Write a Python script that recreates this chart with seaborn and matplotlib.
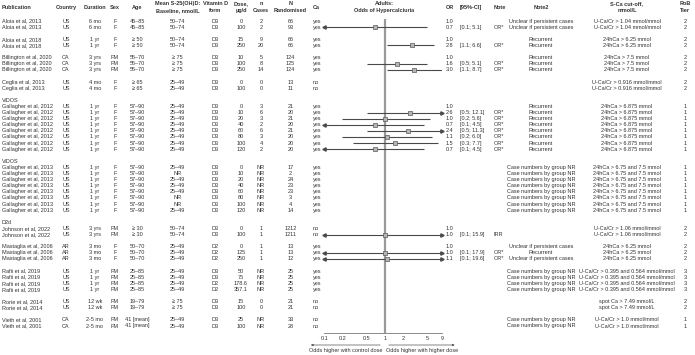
import numpy as np
import pandas as pd
import seaborn as sns
from matplotlib import pyplot as plt

# study level data
studies = ['Aloia et al, 2013', 'Aloia et al, 2018', 'Billington et al, 2020', 'Ceglia et al, 2013',
           'Gallagher et al, 2012', 'Gallagher et al, 2013', 'Johnson et al, 2022', 'Mastaglia et al, 2006',
           'Rafii et al, 2019', 'Rorie et al, 2014', 'Vieth et al, 2001']
groups = ['', '', '', '', 'ViDOS', 'ViDOS', 'D2d', '', '', '', '']
country = ['US', 'US', 'CA', 'US', 'US', 'US', 'US', 'AR', 'US', 'US', 'CA']
duration = ['6 mo', '1 yr', '3 yrs', '4 mo', '1 yr', '1 yr', '3 yrs', '3 mo', '1 yr', '12 wk', '2-5 mo']
sex = ['F', 'F', 'FM', 'F', 'F', 'F', 'FM', 'F', 'FM', 'FM', 'FM']
age = ['45–85', '≥ 50', '55–70', '≥ 65', '57–90', '57–90', '≥ 30', '50–70', '25–85', '19–79', '41 [mean]']
ca = ['yes', 'yes', 'yes', 'no', 'yes', 'yes', 'no', 'yes', 'yes', 'no', 'no']
cutoff = ['U-Ca/Cr > 1.04 mmol/mmol', '24hCa > 6.25 mmol', '24hCa > 7.5 mmol', 'U-Ca/Cr > 0.916 mmol/mmol',
          '24hCa > 6.875 mmol', '24hCa > 6.75 and 7.5 mmol', 'U-Ca/Cr > 1.06 mmol/mmol', '24hCa > 6.25 mmol',
          'U-Ca/Cr > 0.395 and 0.564 mmol/mmol', 'spot Ca > 7.49 mmol/L', 'U-Ca/Cr > 1.0 mmol/mmol']
rob = ['2', '2', '2', '2', '1', '1', '2', '2', '3', '2', '1']

# arm level data
doses = [['0', '100'], ['15', '250'], ['10', '100', '250'], ['0', '100'],
         ['0', '10', '20', '40', '60', '80', '100', '120'],
         ['0', '10', '20', '40', '60', '80', '100', '120'],
         ['0', '100'], ['0', '125', '250'], ['50', '75', '178.6', '357.1'], ['15', '100'], ['25', '100']]
cases = [['2', '2'], ['9', '20'], ['5', '8', '14'], ['0', '0'],
         ['3', '6', '3', '2', '6', '3', '4', '2'],
         ['NR'] * 8,
         ['1', '1'], ['1', '1', '1'], ['NR'] * 4, ['0', '0'], ['NR', 'NR']]
randomised = [['66', '93'], ['66', '66'], ['124', '125', '124'], ['13', '11'],
              ['21', '20', '21', '20', '21', '20', '20', '20'],
              ['17', '2', '24', '23', '23', '3', '4', '14'],
              ['1212', '1211'], ['13', '13', '12'], ['25'] * 4, ['21', '21'], ['33', '28']]
baseline = [['50–74'] * 2, ['50–74'] * 2, ['≥ 75'] * 3, ['25–49'] * 2, ['25–49'] * 8,
            ['25–49', 'NR', '25–49', '25–49', '25–49', 'NR', 'NR', '25–49'],
            ['50–74'] * 2, ['25–49'] * 3, ['25–49'] * 4, ['≥ 75'] * 2, ['25–49'] * 2]
vit_form = [['D3'] * 2, ['D3'] * 2, ['D3'] * 3, ['D3'] * 2, ['D3'] * 8, ['D3'] * 8,
            ['D3'] * 2, ['D2'] * 3, ['D3', 'D3', 'D2', 'D2'], ['D3'] * 2, ['D3'] * 2]
odds = [[1.0, 0.7], [1.0, 2.8], [1.0, 1.6, 3.0], [None, None],
        [1.0, 2.6, 1.0, 0.7, 2.4, 1.1, 1.5, 0.7], [None] * 8,
        [1.0, 1.0], [1.0, 1.0, 1.1], [None] * 4, [None] * 2, [None] * 2]
ci_low = [[None, 0.1], [None, 1.1], [None, 0.5, 1.1], [None, None],
          [None, 0.5, 0.2, 0.1, 0.5, 0.2, 0.3, 0.1], [None] * 8,
          [None, 0.1], [None, 0.1, 0.1], [None] * 4, [None] * 2, [None] * 2]
ci_high = [[None, 5.1], [None, 6.6], [None, 5.1, 8.7], [None, None],
           [None, 12.1, 5.6, 4.5, 11.3, 6.0, 7.7, 4.5], [None] * 8,
           [None, 15.9], [None, 17.9, 19.6], [None] * 4, [None] * 2, [None] * 2]
note = [['', 'OR*'], ['', 'OR*'], ['', 'OR*', 'OR*'], ['', ''],
        [''] + ['OR*'] * 7, [''] * 8, ['', 'IRR'], ['', 'OR*', 'OR*'], [''] * 4, [''] * 2, [''] * 2]
note2 = [['Unclear if persistent cases'] * 2, ['Recurrent'] * 2, ['Recurrent'] * 3, ['', ''],
         ['Recurrent'] * 8, ['Case numbers by group NR'] * 8, ['', ''],
         ['Unclear if persistent cases', 'Recurrent', 'Unclear if persistent cases'],
         ['Case numbers by group NR'] * 4, ['', ''], ['Case numbers by group NR'] * 2]

tick_vals = [0.1, 0.2, 0.5, 1, 2, 5, 9]
tick_labels = ['0.1', '0.2', '0.5', '1', '2', '5', '9']

# build the table, one line per arm, with spacer / group lines
records = []
labels = []
r = 0
for k, name in enumerate(studies):
    if k > 0:
        r += 1
    if groups[k]:
        labels.append((r, groups[k]))
        r += 1
    for j, d in enumerate(doses[k]):
        o = odds[k][j]
        lo, hi = ci_low[k][j], ci_high[k][j]
        records.append(dict(row=r, pub=name, country=country[k], duration=duration[k], sex=sex[k],
                            age=age[k], baseline=baseline[k][j], form=vit_form[k][j], dose=d,
                            cases=cases[k][j], rand=randomised[k][j], ca=ca[k],
                            orv=o, lo=lo, hi=hi,
                            ortxt='' if o is None else f'{o:.1f}',
                            citxt='' if lo is None else f'[{lo:.1f}; {hi:.1f}]',
                            note=note[k][j], note2=note2[k][j], cutoff=cutoff[k], rob=rob[k]))
        r += 1
df = pd.DataFrame(records)

W, H = 695, 355
TOP, PITCH = 21, 6.1
AX_BOTTOM = 332.7
X_LO, X_HI = 324.3, 442.4
XMIN, XMAX = 0.1, 9


def px2row(p):
    return (p - TOP) / PITCH


sns.set_style('white')
plt.rcParams['font.family'] = ['Liberation Sans', 'DejaVu Sans']
TXT = '#333333'
FS = 4.0

fig = plt.figure(figsize=(W / 100, H / 100), dpi=100)
ax = fig.add_axes([0, 0, 1, 1])
ax.set_xlim(0, W)
ax.set_ylim(px2row(H), px2row(0))
ax.axis('off')

columns = [
    (['Publication'], 2, 'left', 'pub'),
    (['Country'], 66, 'center', 'country'),
    (['Duration'], 95, 'center', 'duration'),
    (['Sex'], 115, 'center', 'sex'),
    (['Age'], 137, 'center', 'age'),
    (['Mean S-25(OH)D:', 'Baseline, nmol/L'], 177.5, 'center', 'baseline'),
    (['Vitamin D', 'form'], 215.5, 'center', 'form'),
    (['Dose,', 'µg/d'], 241, 'center', 'dose'),
    (['n', 'Cases'], 261, 'center', 'cases'),
    (['N', 'Randomised'], 290.5, 'center', 'rand'),
    (['Ca'], 313, 'left', 'ca'),
    (['Adults:', 'Odds of Hypercalciuria'], 384, 'center', None),
    (['OR'], 445.5, 'left', 'ortxt'),
    (['[95%-CI]'], 459.5, 'left', 'citxt'),
    (['Note'], 493.5, 'left', 'note'),
    (['Note2'], 541, 'center', 'note2'),
    (['S-Ca cut-off,', 'mmol/L'], 627, 'center', 'cutoff'),
    (['RoB', 'Tier'], 685, 'center', 'rob'),
]

for head, x, ha, key in columns:
    if len(head) == 1:
        ax.text(x, px2row(7.5), head[0], ha=ha, va='center', fontsize=FS, fontweight='bold', color=TXT)
    else:
        ax.text(x, px2row(3.6), head[0], ha=ha, va='center', fontsize=FS, fontweight='bold', color=TXT)
        ax.text(x, px2row(10.3), head[1], ha=ha, va='center', fontsize=FS, fontweight='bold', color=TXT)
    if key is None:
        continue
    for _, rec in df.iterrows():
        if rec[key]:
            ax.text(x, rec['row'], rec[key], ha=ha, va='center', fontsize=FS, color=TXT)

for row, lab in labels:
    ax.text(2, row, lab, ha='left', va='center', fontsize=FS, color=TXT)

# forest plot
axf = fig.add_axes([X_LO / W, (H - AX_BOTTOM) / H, (X_HI - X_LO) / W, AX_BOTTOM / H])
axf.patch.set_alpha(0)
axf.set_xscale('log')
axf.vlines(1, px2row(19), px2row(AX_BOTTOM), color='#9a9a9a', lw=1.6, zorder=1)

ci = df.dropna(subset=['lo']).copy()
ci_rows = ci['row'].to_numpy(dtype=float)
ci_a = np.maximum(ci['lo'].to_numpy(dtype=float), XMIN)
ci_b = np.minimum(ci['hi'].to_numpy(dtype=float), XMAX)
axf.hlines(ci_rows, ci_a, ci_b, colors='#4a4a4a', linewidths=0.8, zorder=2)
left = ci[ci['lo'] <= XMIN]
right = ci[ci['hi'] > XMAX]
axf.plot(np.full(len(left), XMIN), left['row'].to_numpy(dtype=float), ls='none', marker='<',
         ms=2.4, color='#4a4a4a', clip_on=False)
axf.plot(np.full(len(right), XMAX), right['row'].to_numpy(dtype=float), ls='none', marker='>',
         ms=2.4, color='#4a4a4a', clip_on=False)
sns.scatterplot(data=ci, x='orv', y='row', marker='s', s=9, color='#b5b5b5', edgecolor='#5a5a5a',
                linewidth=0.5, ax=axf, zorder=3, legend=False, clip_on=False)

axf.set_xlim(XMIN, XMAX)
axf.set_ylim(px2row(AX_BOTTOM), px2row(0))
axf.set_xticks(tick_vals)
axf.set_xticklabels(tick_labels)
axf.minorticks_off()
axf.set_yticks([])
axf.set_xlabel('')
axf.set_ylabel('')
for s in ['top', 'left', 'right']:
    axf.spines[s].set_visible(False)
axf.spines['bottom'].set_color('#777777')
axf.spines['bottom'].set_linewidth(0.6)
axf.tick_params(axis='x', direction='in', length=2.5, width=0.6, color='#777777',
                labelsize=FS, labelcolor=TXT, pad=2.6)

# direction arrows
ya = px2row(345)
ax.annotate('', xy=(308, ya), xytext=(383, ya),
            arrowprops=dict(arrowstyle='-|>', lw=0.5, color='#555555', mutation_scale=3))
ax.annotate('', xy=(457.5, ya), xytext=(386, ya),
            arrowprops=dict(arrowstyle='-|>', lw=0.5, color='#555555', mutation_scale=3))
ax.text(345.5, px2row(350.5), 'Odds higher with control dose', ha='center', va='center', fontsize=FS, color=TXT)
ax.text(422, px2row(350.5), 'Odds higher with higher dose', ha='center', va='center', fontsize=FS, color=TXT)

fig.savefig('out.png', dpi=100)
